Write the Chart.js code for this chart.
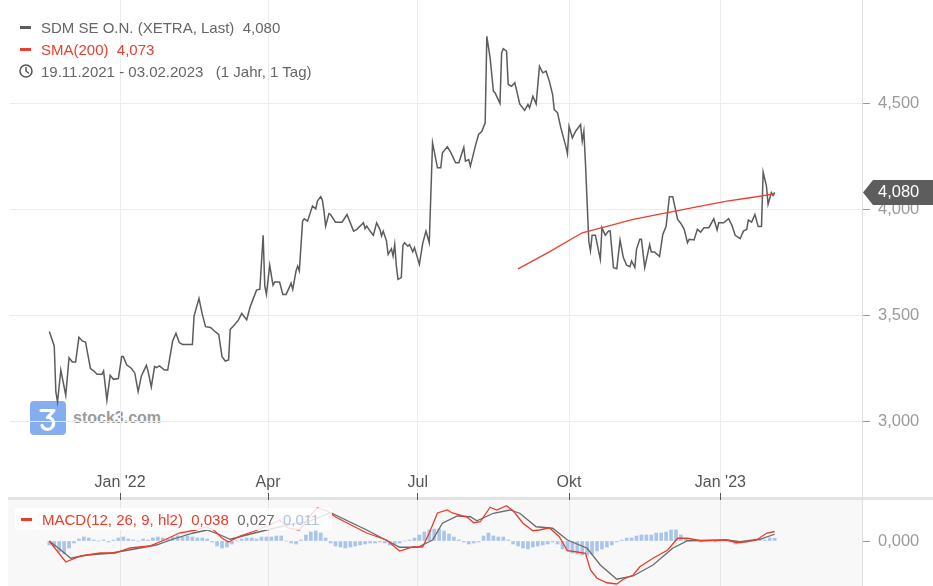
<!DOCTYPE html>
<html><head><meta charset="utf-8">
<script src="https://cdn.jsdelivr.net/npm/chart.js@4.4.1/dist/chart.umd.min.js"></script>
<style>
html,body{margin:0;padding:0;background:#fff;}
body{width:933px;height:586px;position:relative;overflow:hidden;font-family:'Liberation Sans',Arial,sans-serif;}
.abs{position:absolute;}
#wm{left:30px;top:401px;z-index:0;}
#logo{left:0;top:0;width:36px;height:34px;border-radius:4px;background:#86adf0;}
#wmtext{left:43px;top:8px;font-size:16px;font-weight:bold;color:#9a9a9a;white-space:nowrap;}
#main{left:0;top:0;z-index:1;}
#band{left:8px;top:497px;width:925px;height:3px;background:#e3e3e3;z-index:0;}
#panelbg{left:8px;top:500px;width:854px;height:86px;background:#f8f8f8;z-index:0;}
#macd{left:0;top:466px;z-index:2;}
#legend{left:20px;top:16px;font-size:15px;color:#666;z-index:5;}
.row{height:22px;display:flex;align-items:center;white-space:pre;}
.dash{display:inline-block;width:11px;height:3px;margin-right:10px;}
#mlegend{left:15px;top:508px;height:22px;width:317px;background:rgba(255,255,255,0.82);z-index:5;font-size:15px;display:flex;align-items:center;white-space:pre;}
</style>
</head><body>
<div id="wm" class="abs">
  <div id="logo" class="abs"><svg width="36" height="34" viewBox="0 0 36 34"><path d="M11 9.5H24L17.5 16.5H19a6 6 0 1 1-7 8" fill="none" stroke="#fff" stroke-width="3.2" stroke-linejoin="round" stroke-linecap="round"/></svg></div>
  <div id="wmtext" class="abs">stock3.com</div>
</div>
<div id="band" class="abs"></div>
<div id="panelbg" class="abs"></div>
<canvas id="main" class="abs" width="933" height="497"></canvas>
<canvas id="macd" class="abs" width="933" height="120"></canvas>
<div id="legend" class="abs">
  <div class="row"><span class="dash" style="background:#5c5c5c"></span><span id="l1"></span></div>
  <div class="row" style="color:#e8402f"><span class="dash" style="background:#e8402f"></span><span id="l2"></span></div>
  <div class="row"><svg width="14" height="14" viewBox="0 0 14 14" style="margin-left:-1px;margin-right:8px"><circle cx="7" cy="7" r="6" fill="none" stroke="#555" stroke-width="1.5"/><path d="M7 3.5V7l2.5 2" fill="none" stroke="#555" stroke-width="1.5" stroke-linecap="round"/></svg><span>19.11.2021 - 03.02.2023   (1 Jahr, 1 Tag)</span></div>
</div>
<div id="mlegend" class="abs"><span class="dash" style="background:#ec3b2b;margin-left:6px"></span><span style="color:#ec3b2b">MACD(12, 26, 9, hl2)  </span><span id="m1" style="color:#ec3b2b"></span><span>  </span><span id="m2" style="color:#6a6a6a"></span><span>  </span><span id="m3" style="color:#a9c3e8"></span></div>
<script>
// ---------- data ----------
const priceDates = ['2021-11-19','2021-11-22','2021-11-23','2021-11-24','2021-11-26','2021-11-29','2021-12-01','2021-12-03','2021-12-05','2021-12-07','2021-12-09','2021-12-11','2021-12-14','2021-12-16','2021-12-18','2021-12-21','2021-12-22','2021-12-24','2021-12-26','2021-12-28','2021-12-31',
'2022-01-02','2022-01-03','2022-01-05','2022-01-08','2022-01-10','2022-01-12','2022-01-14','2022-01-17','2022-01-18','2022-01-20','2022-01-22','2022-01-23','2022-01-25','2022-01-28','2022-01-30',
'2022-02-02','2022-02-04','2022-02-06','2022-02-08','2022-02-14','2022-02-15','2022-02-18','2022-02-20','2022-02-22','2022-02-25','2022-02-28',
'2022-03-02','2022-03-04','2022-03-06','2022-03-08','2022-03-09','2022-03-11','2022-03-14','2022-03-16','2022-03-19','2022-03-21','2022-03-23','2022-03-25','2022-03-27','2022-03-29','2022-03-30','2022-03-31',
'2022-04-02','2022-04-04','2022-04-05','2022-04-08','2022-04-10','2022-04-12','2022-04-15','2022-04-16','2022-04-18','2022-04-19','2022-04-20','2022-04-22','2022-04-23','2022-04-25','2022-04-27','2022-04-28','2022-04-30',
'2022-05-01','2022-05-03','2022-05-04','2022-05-05','2022-05-06','2022-05-08','2022-05-09','2022-05-12','2022-05-16','2022-05-19','2022-05-20','2022-05-23','2022-05-25','2022-05-29','2022-05-30','2022-05-31',
'2022-06-02','2022-06-04','2022-06-06','2022-06-08','2022-06-09','2022-06-10','2022-06-12','2022-06-13','2022-06-15','2022-06-16','2022-06-17','2022-06-18','2022-06-19','2022-06-21','2022-06-22','2022-06-23','2022-06-25','2022-06-26','2022-06-28','2022-06-29',
'2022-07-02','2022-07-04','2022-07-06','2022-07-08','2022-07-10','2022-07-13','2022-07-15','2022-07-16','2022-07-19','2022-07-21','2022-07-24','2022-07-26','2022-07-29','2022-07-30',
'2022-08-01','2022-08-02','2022-08-05','2022-08-07','2022-08-09','2022-08-11','2022-08-12','2022-08-14','2022-08-16','2022-08-17','2022-08-20','2022-08-21','2022-08-22','2022-08-24','2022-08-25','2022-08-27','2022-08-29','2022-08-30',
'2022-09-01','2022-09-04','2022-09-06','2022-09-07','2022-09-09','2022-09-11','2022-09-13','2022-09-15','2022-09-17','2022-09-19','2022-09-21','2022-09-22','2022-09-24','2022-09-26','2022-09-29','2022-09-30',
'2022-10-01','2022-10-03','2022-10-05','2022-10-08','2022-10-09','2022-10-10','2022-10-11','2022-10-13','2022-10-14','2022-10-15','2022-10-17','2022-10-20','2022-10-21','2022-10-23','2022-10-25','2022-10-26','2022-10-28','2022-10-30',
'2022-11-01','2022-11-03','2022-11-05','2022-11-07','2022-11-08','2022-11-10','2022-11-11','2022-11-13','2022-11-14','2022-11-16','2022-11-19','2022-11-20','2022-11-22','2022-11-25','2022-11-27','2022-11-29',
'2022-12-01','2022-12-03','2022-12-06','2022-12-08','2022-12-10','2022-12-12','2022-12-13','2022-12-16','2022-12-18','2022-12-20','2022-12-22','2022-12-25','2022-12-28','2022-12-30','2022-12-31',
'2023-01-03','2023-01-06','2023-01-08','2023-01-10','2023-01-13','2023-01-15','2023-01-17','2023-01-18','2023-01-20','2023-01-22','2023-01-24','2023-01-26','2023-01-27','2023-01-29','2023-01-30','2023-02-01','2023-02-02','2023-02-03'];
const priceValues = [3.425,3.357,3.138,3.094,3.244,3.125,3.302,3.282,3.282,3.398,3.381,3.376,3.251,3.24,3.224,3.224,3.24,3.102,3.219,3.2,3.204,
3.307,3.307,3.268,3.251,3.229,3.142,3.216,3.266,3.24,3.164,3.26,3.255,3.263,3.244,3.244,
3.381,3.417,3.373,3.364,3.364,3.498,3.581,3.506,3.448,3.444,3.423,
3.412,3.307,3.286,3.291,3.436,3.451,3.48,3.51,3.48,3.538,3.58,3.62,3.624,3.878,3.64,3.60,
3.737,3.643,3.658,3.658,3.60,3.60,3.652,3.624,3.71,3.733,3.71,3.945,3.956,3.945,3.992,4.016,4.003,
4.039,4.06,4.044,3.992,3.921,3.98,3.976,3.94,3.94,3.976,3.956,3.898,3.906,3.937,3.909,3.921,
3.898,3.878,3.937,3.906,3.875,3.898,3.851,3.788,3.815,3.78,3.835,3.733,3.671,3.679,3.831,3.843,3.827,3.835,3.80,3.82,
3.741,3.839,3.898,3.843,4.314,4.196,4.196,4.267,4.295,4.27,4.22,4.22,4.293,4.227,
4.235,4.204,4.298,4.353,4.368,4.408,4.815,4.714,4.556,4.549,4.499,4.737,4.757,4.745,4.588,4.58,4.596,4.564,
4.497,4.466,4.494,4.478,4.533,4.497,4.674,4.643,4.651,4.604,4.541,4.47,4.455,4.384,4.298,4.262,
4.392,4.337,4.368,4.40,4.321,4.368,4.212,3.85,3.804,3.878,3.878,3.765,3.914,3.878,3.898,3.898,3.726,3.721,
3.856,3.773,3.737,3.73,3.757,3.726,3.812,3.859,3.859,3.726,3.835,3.80,3.80,3.778,3.882,3.921,
4.06,4.06,3.953,3.934,3.906,3.843,3.859,3.856,3.906,3.893,3.914,3.914,3.956,3.903,3.937,
3.937,3.956,3.925,3.878,3.862,3.898,3.906,3.95,3.94,3.976,3.919,3.919,4.175,4.11,4.024,4.079,4.066,4.08];

const smaDates = ['2022-08-31','2022-09-19','2022-10-09','2022-10-24','2022-11-09','2022-11-29','2022-12-20','2023-01-05','2023-01-19','2023-02-03'];
const smaValues = [3.72,3.80,3.89,3.92,3.953,3.984,4.016,4.039,4.055,4.073];

const macdDates = ['2021-11-19','2021-11-29','2021-12-08','2021-12-20','2021-12-29','2022-01-07','2022-01-19','2022-01-28','2022-02-06','2022-02-16','2022-02-22','2022-02-27','2022-03-04','2022-03-08','2022-03-15','2022-03-24','2022-04-02','2022-04-08','2022-04-13','2022-04-20','2022-04-27','2022-05-01','2022-05-07','2022-05-12','2022-05-31','2022-06-12','2022-06-20','2022-06-28','2022-07-04','2022-07-08','2022-07-13','2022-07-19','2022-07-22','2022-07-31','2022-08-04','2022-08-08','2022-08-14','2022-08-18','2022-08-24','2022-08-28','2022-09-03','2022-09-09','2022-09-13','2022-09-19','2022-09-25','2022-09-30','2022-10-05','2022-10-11','2022-10-14','2022-10-18','2022-10-24','2022-10-30','2022-11-03','2022-11-09','2022-11-13','2022-11-21','2022-11-30','2022-12-06','2022-12-12','2022-12-20','2023-01-05','2023-01-11','2023-01-17','2023-01-23','2023-01-29','2023-02-03'];
const macdValues = [0,-0.084,-0.06,-0.048,-0.048,-0.028,-0.02,0.004,0.032,0.044,0.056,0.044,0.012,-0.004,0.02,0.04,0.064,0.084,0.052,0.044,0.104,0.132,0.12,0.096,0.032,0.004,-0.04,-0.024,-0.024,0.032,0.112,0.124,0.112,0.096,0.073,0.077,0.135,0.124,0.141,0.121,0.071,0.041,0.044,0.053,0.017,-0.039,-0.043,-0.049,-0.116,-0.149,-0.167,-0.172,-0.153,-0.136,-0.103,-0.069,-0.036,0.011,0.011,0.001,0.004,-0.007,-0.003,0.004,0.031,0.038];

const signalDates = ['2021-11-19','2021-11-26','2021-12-02','2021-12-12','2021-12-26','2022-01-09','2022-01-23','2022-02-02','2022-02-14','2022-02-23','2022-03-03','2022-03-09','2022-03-19','2022-03-31','2022-04-13','2022-04-25','2022-05-09','2022-05-31','2022-06-20','2022-07-01','2022-07-10','2022-07-16','2022-07-25','2022-08-02','2022-08-06','2022-08-16','2022-08-26','2022-09-01','2022-09-11','2022-09-21','2022-09-30','2022-10-12','2022-10-20','2022-10-30','2022-11-09','2022-11-21','2022-12-03','2022-12-12','2023-01-05','2023-01-13','2023-01-25','2023-02-03'];
const signalValues = [0,-0.036,-0.069,-0.056,-0.049,-0.033,-0.016,0.007,0.031,0.044,0.024,0.007,0.024,0.044,0.064,0.077,0.113,0.044,-0.025,-0.025,0.004,0.071,0.1,0.097,0.081,0.111,0.124,0.111,0.057,0.051,0.004,-0.029,-0.096,-0.153,-0.14,-0.096,-0.029,0.001,0.004,-0.003,0.007,0.027];

const histDates = ['2021-11-19','2021-11-22','2021-11-25','2021-11-28','2021-12-01','2021-12-04','2021-12-07','2021-12-10','2021-12-13','2021-12-16','2021-12-19','2021-12-22','2021-12-25','2021-12-28','2021-12-31',
'2022-01-03','2022-01-06','2022-01-09','2022-01-12','2022-01-15','2022-01-18','2022-01-21','2022-01-24','2022-01-27','2022-01-30',
'2022-02-02','2022-02-05','2022-02-08','2022-02-11','2022-02-14','2022-02-17','2022-02-20','2022-02-23','2022-02-26',
'2022-03-01','2022-03-04','2022-03-07','2022-03-10','2022-03-13','2022-03-16','2022-03-19','2022-03-22','2022-03-25','2022-03-28','2022-03-31',
'2022-04-03','2022-04-06','2022-04-09','2022-04-12','2022-04-15','2022-04-18','2022-04-21','2022-04-24','2022-04-27','2022-04-30',
'2022-05-03','2022-05-06','2022-05-09','2022-05-12','2022-05-15','2022-05-18','2022-05-21','2022-05-24','2022-05-27','2022-05-30',
'2022-06-02','2022-06-05','2022-06-08','2022-06-11','2022-06-14','2022-06-17','2022-06-20','2022-06-23','2022-06-26','2022-06-29',
'2022-07-02','2022-07-05','2022-07-08','2022-07-11','2022-07-14','2022-07-17','2022-07-20','2022-07-23','2022-07-26','2022-07-29',
'2022-08-01','2022-08-04','2022-08-07','2022-08-10','2022-08-13','2022-08-16','2022-08-19','2022-08-22','2022-08-25','2022-08-28','2022-08-31',
'2022-09-03','2022-09-06','2022-09-09','2022-09-12','2022-09-15','2022-09-18','2022-09-21','2022-09-24','2022-09-27','2022-09-30',
'2022-10-03','2022-10-06','2022-10-09','2022-10-12','2022-10-15','2022-10-18','2022-10-21','2022-10-24','2022-10-27','2022-10-30',
'2022-11-02','2022-11-05','2022-11-08','2022-11-11','2022-11-14','2022-11-17','2022-11-20','2022-11-23','2022-11-26','2022-11-29',
'2022-12-02','2022-12-05','2022-12-08','2022-12-11','2022-12-14','2022-12-17','2022-12-20','2022-12-23','2022-12-26','2022-12-29',
'2023-01-01','2023-01-04','2023-01-07','2023-01-10','2023-01-13','2023-01-16','2023-01-19','2023-01-22','2023-01-25','2023-01-28','2023-01-31','2023-02-03'];
const histValues = [-0.016,-0.024,-0.044,-0.052,-0.028,-0.008,0.008,0.016,0.012,0.004,
0,0.004,-0.004,0.004,0.012,0.016,0.008,0.004,0,0.008,
0.004,0.012,0.016,0.012,0.008,0.016,0.02,0.016,0.02,0.016,
0.012,0.012,0.008,-0.004,-0.02,-0.028,-0.024,-0.012,0,0.008,
0.012,0.012,0.008,0.016,0.016,0.016,0.02,0.02,0,-0.008,
-0.012,0.004,0.024,0.036,0.04,0.032,0.012,-0.008,-0.02,-0.024,
-0.028,-0.024,-0.02,-0.016,-0.012,-0.008,-0.008,-0.004,-0.008,-0.016,
-0.012,-0.008,0,0.004,0.012,0.024,0.036,0.044,0.048,0.048,
0.04,0.028,0.016,0.004,-0.004,-0.012,-0.008,-0.004,0.02,0.032,
0.02,0.016,0.016,0.004,-0.012,-0.02,-0.028,-0.032,-0.024,-0.02,
-0.016,-0.012,-0.004,-0.012,-0.032,-0.04,-0.048,-0.052,-0.056,-0.056,
-0.052,-0.04,-0.032,-0.024,-0.016,-0.004,0.004,0.012,0.012,0.02,
0.024,0.024,0.024,0.032,0.032,0.036,0.044,0.044,0.024,0.008,
0,0.004,-0.004,0,0,-0.004,0,0.004,-0.004,-0.012,
-0.008,0,0.004,0.008,0.008,0.004,0.012,0.011];

const xTickDates = ['2022-01-01','2022-04-01','2022-07-01','2022-10-01','2023-01-01'];
const xTickLabels = ["Jan '22","Apr","Jul","Okt","Jan '23"];
const priceTicks = [3.0,3.5,4.0,4.5];
const macdTicks = [0];

// ---------- helpers ----------
const EPOCH = Date.UTC(2022,0,1);
function dayOf(s){const p=s.split('-').map(Number);return (Date.UTC(p[0],p[1]-1,p[2])-EPOCH)/864e5;}
function pts(dates, vals){return dates.map((d,i)=>({x:dayOf(d), y:vals[i]}));}
const fmt = v => Number(v).toFixed(3).replace('.', ',');
const X_MIN = -66.9, X_MAX = 451.1;
const FONT = "'Liberation Sans', Arial, sans-serif";
Chart.defaults.font.family = FONT;

const lastPrice = priceValues[priceValues.length-1];
document.getElementById('l1').textContent = 'SDM SE O.N. (XETRA, Last)  ' + fmt(lastPrice);
document.getElementById('l2').textContent = 'SMA(200)  ' + fmt(smaValues[smaValues.length-1]);
document.getElementById('m1').textContent = fmt(macdValues[macdValues.length-1]);
document.getElementById('m2').textContent = fmt(signalValues[signalValues.length-1]);
document.getElementById('m3').textContent = fmt(histValues[histValues.length-1]);

const xTicksBuild = s => { s.ticks = xTickDates.map(d => ({value: dayOf(d)})); };

const tagPlugin = {
  id:'tag',
  afterDraw(chart){
    const ctx = chart.ctx, y = chart.scales.y.getPixelForValue(lastPrice);
    const x0 = chart.chartArea.right + 1;
    ctx.save();
    ctx.fillStyle = '#5d5d5d';
    ctx.beginPath();
    ctx.moveTo(x0, y); ctx.lineTo(x0+10, y-12.5); ctx.lineTo(933, y-12.5); ctx.lineTo(933, y+12.5); ctx.lineTo(x0+10, y+12.5);
    ctx.closePath(); ctx.fill();
    ctx.fillStyle = '#fff'; ctx.font = '16.5px ' + FONT; ctx.textAlign = 'left'; ctx.textBaseline = 'middle';
    ctx.fillText(fmt(lastPrice), 878, y + 0.5);
    ctx.restore();
  }
};

new Chart(document.getElementById('main'), {
  type:'line',
  data:{datasets:[
    {data:pts(smaDates, smaValues), borderColor:'#e8402f', borderWidth:1.3, pointRadius:0, tension:0, order:0},
    {data:pts(priceDates, priceValues), borderColor:'#5c5c5c', borderWidth:1.5, pointRadius:0, tension:0, order:1}
  ]},
  options:{
    responsive:false, animation:false, devicePixelRatio:1,
    layout:{padding:{left:10, right:0, top:0, bottom:0}},
    plugins:{legend:{display:false}, tooltip:{enabled:false}},
    scales:{
      x:{type:'linear', min:X_MIN, max:X_MAX, afterBuildTicks:xTicksBuild,
         afterFit:s=>{s.height=0; s.paddingLeft=0; s.paddingRight=0;},
         ticks:{display:false}, grid:{color:'#ececec', drawTicks:false}, border:{display:false}},
      y:{position:'right', min:2.646, max:4.986,
         afterBuildTicks:s=>{s.ticks = priceTicks.map(v=>({value:v}));},
         afterFit:s=>{s.width=71; s.paddingTop=0; s.paddingBottom=0;},
         ticks:{callback:v=>fmt(v), color:'#9a9a9a', font:{size:16.5}, padding:8},
         grid:{color:'#ececec', tickColor:'#9a9a9a', tickLength:8},
         border:{color:'#e0e0e0'}}
    }
  },
  plugins:[tagPlugin]
});

new Chart(document.getElementById('macd'), {
  type:'bar',
  data:{datasets:[
    {type:'line', data:pts(macdDates, macdValues), borderColor:'#ec3b2b', borderWidth:1.3, pointRadius:0, tension:0, order:0},
    {type:'line', data:pts(signalDates, signalValues), borderColor:'#6a6a6a', borderWidth:1.3, pointRadius:0, tension:0, order:1},
    {type:'bar', data:pts(histDates, histValues), backgroundColor:'rgba(150,184,228,0.8)', borderWidth:0, barThickness:3, order:2}
  ]},
  options:{
    responsive:false, animation:false, devicePixelRatio:1,
    layout:{padding:{left:10, right:0, top:0, bottom:0}},
    plugins:{legend:{display:false}, tooltip:{enabled:false}},
    scales:{
      x:{type:'linear', position:'top', min:X_MIN, max:X_MAX, offset:false, afterBuildTicks:xTicksBuild,
         afterFit:s=>{s.height=34; s.paddingLeft=0; s.paddingRight=0;},
         ticks:{callback:(v,i)=>xTickLabels[i], color:'#555', font:{size:16}, padding:1, autoSkip:false, maxRotation:0},
         grid:{color:'#e6e6e6', tickColor:'#555', tickLength:7, offset:false}, border:{display:false}},
      y:{position:'right', min:-0.18, max:0.164,
         afterBuildTicks:s=>{s.ticks = macdTicks.map(v=>({value:v}));},
         afterFit:s=>{s.width=71; s.paddingTop=0; s.paddingBottom=0;},
         ticks:{callback:v=>fmt(v), color:'#9a9a9a', font:{size:16.5}, padding:8},
         grid:{color:'rgba(0,0,0,0)', tickColor:'#9a9a9a', tickLength:8},
         border:{color:'#e0e0e0'}}
    }
  }
});
</script>
</body></html>
